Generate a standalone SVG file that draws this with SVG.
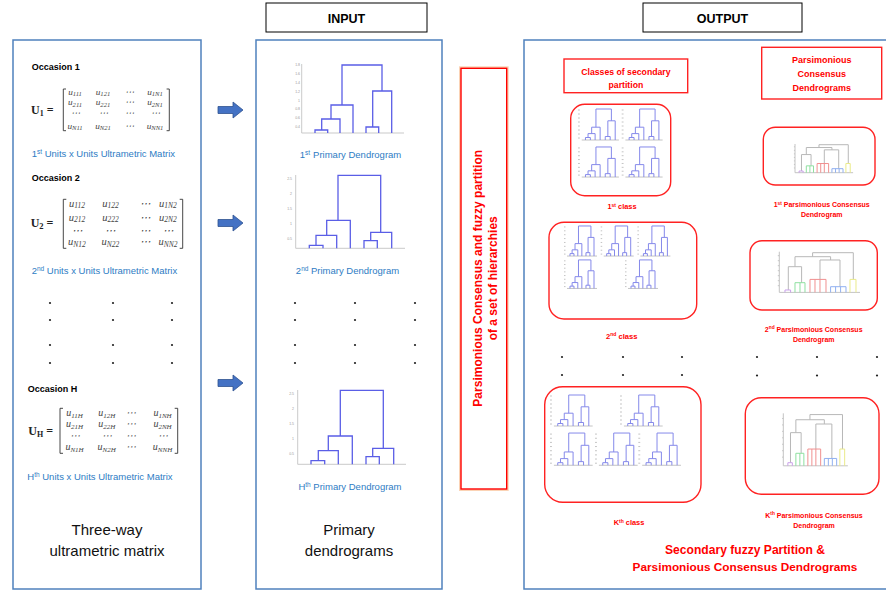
<svg xmlns="http://www.w3.org/2000/svg" xmlns:xlink="http://www.w3.org/1999/xlink" width="886" height="592" viewBox="0 0 886 592">
<style>
.panel{fill:none;stroke:#4f81bd;stroke-width:1.5}
.hdr{fill:#fff;stroke:#000;stroke-width:1}
.hdrt{font:bold 12.5px "Liberation Sans",Arial,sans-serif;text-anchor:middle;fill:#000}
.occ{font:bold 9px "Liberation Sans",Arial,sans-serif;fill:#000}
.lbl{font:9.5px "Liberation Sans",Arial,sans-serif;fill:#2e7cc4}
.lblc{font:9.5px "Liberation Sans",Arial,sans-serif;fill:#2e7cc4;text-anchor:middle}
.big{font:15px "Liberation Sans",Arial,sans-serif;fill:#111;text-anchor:middle}
.m1{font:italic 9.2px "Liberation Serif","DejaVu Serif",serif;fill:#444;text-anchor:middle}
.m{font:italic 10px "Liberation Serif","DejaVu Serif",serif;fill:#444;text-anchor:middle}
.m2{font:italic 10.5px "Liberation Serif","DejaVu Serif",serif;fill:#444;text-anchor:middle}
.s1{font-size:6.6px}
.s{font-size:7px}
.s2{font-size:7.5px}
.U{font:bold 12px "Liberation Serif","DejaVu Serif",serif;fill:#222}
.br{fill:none;stroke:#333;stroke-width:0.9}
.dend{fill:none;stroke:#5a5ee6;stroke-width:1.3}
.axis{fill:none;stroke:#bbb;stroke-width:0.8}
.tk{font:3.5px "Liberation Sans",Arial,sans-serif;fill:#999;text-anchor:end}
.dot{fill:#222}
.rbox{fill:none;stroke:#f22;stroke-width:1.4}
.rt{font-family:"Liberation Sans",Arial,sans-serif;font-weight:bold;fill:#f00;text-anchor:middle}
.mini{fill:none;stroke:#8589ea;stroke-width:1;vector-effect:non-scaling-stroke}
.gl{fill:none;stroke:#c4c4c4;stroke-width:1;vector-effect:non-scaling-stroke}
.arrow{fill:#4472c4;stroke:#2f528f;stroke-width:0.8}
</style>
<defs>
<path id="arr" d="M0,-3.5H15V-8L25,0L15,8V3.5H0Z"/>
<g id="mini">
<path class="gl" d="M0,2h2M0,6h2M0,10h2M0,14h2M0,18h2M0,22h2M0,26h2M0,30h2"/>
<path class="gl" d="M4,32H44"/>
<path class="mini" d="M19.3,19.2V1H35.9V12.8M14.7,25.6V19.2H23.8V32M10.8,29.5V25.6H18.4V32M8,32V29.5H13.3V32M32.1,28.5V12.8H40V32M29.3,32V28.5H34.6V32"/>
</g>
<g id="cons">
<path class="gl" d="M0,0V40.7H80.7M-1.5,4H0M-1.5,9H0M-1.5,14H0M-1.5,19H0M-1.5,24H0M-1.5,29H0M-1.5,34H0"/>
<path class="gl" style="stroke:#b8b8b8" d="M33.3,5V1H74V27.7M15.7,15V5H51.3V8.3M9,38.3V15H22.3V31M40.7,27.7V8.3H60.7V35"/>
<path class="gl" style="stroke:#c9a0ea" d="M5.7,40.7V38.3H11.3V40.7"/>
<path class="gl" style="stroke:#8fe0a0" d="M15.7,40.7V31H25.7V40.7M20.7,31V40.7"/>
<path class="gl" style="stroke:#f09090" d="M30.7,40.7V27.7H46.7V40.7M35.7,27.7V40.7M40.7,27.7V40.7"/>
<path class="gl" style="stroke:#90b0f0" d="M51.3,40.7V35H66.7V40.7M56.3,35V40.7M61.3,35V40.7"/>
<path class="gl" style="stroke:#eaea8a" d="M70.7,40.7V27.7H76.7V40.7"/>
</g>
</defs>

<!-- headers -->
<g id="input-header">
<rect class="hdr" x="266" y="3" width="161" height="29"/>
<text class="hdrt" x="346.5" y="22.5">INPUT</text>
</g>
<g id="output-header">
<rect class="hdr" x="643" y="3" width="159" height="29"/>
<text class="hdrt" x="722.5" y="22.5">OUTPUT</text>
</g>

<!-- left panel -->
<g id="three-way-panel">
<rect class="panel" x="13" y="40" width="188" height="549"/>
<text class="occ" x="31.7" y="70">Occasion 1</text>
<text class="U" x="31" y="114">U<tspan font-size="8" dy="2">1</tspan><tspan dy="-2"> =</tspan></text>
<path class="br" d="M66,89H63.3V130.7H66M166.6,89H169.3V130.7H166.6"/>
<text class="m1" x="75" y="94.5">u<tspan class="s1" dy="1.8">111</tspan></text>
<text class="m1" x="103" y="94.5">u<tspan class="s1" dy="1.8">121</tspan></text>
<text class="m1" x="129" y="94.5">⋯</text>
<text class="m1" x="155" y="94.5">u<tspan class="s1" dy="1.8">1N1</tspan></text>
<text class="m1" x="75" y="105">u<tspan class="s1" dy="1.8">211</tspan></text>
<text class="m1" x="103" y="105">u<tspan class="s1" dy="1.8">221</tspan></text>
<text class="m1" x="129" y="105">⋯</text>
<text class="m1" x="155" y="105">u<tspan class="s1" dy="1.8">2N1</tspan></text>
<text class="m1" x="75" y="115.5">⋯</text>
<text class="m1" x="103" y="115.5">⋯</text>
<text class="m1" x="129" y="115.5">⋯</text>
<text class="m1" x="155" y="115.5">⋯</text>
<text class="m1" x="75" y="128.5">u<tspan class="s1" dy="1.8">N11</tspan></text>
<text class="m1" x="103" y="128.5">u<tspan class="s1" dy="1.8">N21</tspan></text>
<text class="m1" x="129" y="128.5">⋯</text>
<text class="m1" x="155" y="128.5">u<tspan class="s1" dy="1.8">NN1</tspan></text>
<text class="lbl" x="31.7" y="156.5">1<tspan font-size="6.5" dy="-3">st</tspan><tspan dy="3"> Units x Units Ultrametric Matrix</tspan></text>

<text class="occ" x="31.7" y="180.5">Occasion 2</text>
<text class="U" x="30.7" y="227.3" font-size="13">U<tspan font-size="8.5" dy="2">2</tspan><tspan dy="-2"> =</tspan></text>
<path class="br" d="M66.3,199.3H63.3V248.3H66.3M179.7,199.3H182.7V248.3H179.7"/>
<text class="m2" x="77" y="206.5">u<tspan class="s2" dy="1.6">112</tspan></text>
<text class="m2" x="110.5" y="206.5">u<tspan class="s2" dy="1.6">122</tspan></text>
<text class="m2" x="145" y="206.5">⋯</text>
<text class="m2" x="168" y="206.5">u<tspan class="s2" dy="1.6">1N2</tspan></text>
<text class="m2" x="77" y="220.5">u<tspan class="s2" dy="1.6">212</tspan></text>
<text class="m2" x="110.5" y="220.5">u<tspan class="s2" dy="1.6">222</tspan></text>
<text class="m2" x="145" y="220.5">⋯</text>
<text class="m2" x="168" y="220.5">u<tspan class="s2" dy="1.6">2N2</tspan></text>
<text class="m2" x="77" y="233.5">⋯</text>
<text class="m2" x="110.5" y="233.5">⋯</text>
<text class="m2" x="145" y="233.5">⋯</text>
<text class="m2" x="168" y="233.5">⋯</text>
<text class="m2" x="77" y="245.3">u<tspan class="s2" dy="1.6">N12</tspan></text>
<text class="m2" x="110.5" y="245.3">u<tspan class="s2" dy="1.6">N22</tspan></text>
<text class="m2" x="145" y="245.3">⋯</text>
<text class="m2" x="168" y="245.3">u<tspan class="s2" dy="1.6">NN2</tspan></text>
<text class="lbl" x="31.7" y="273.5">2<tspan font-size="6.5" dy="-3">nd</tspan><tspan dy="3"> Units x Units Ultrametric Matrix</tspan></text>

<circle class="dot" cx="50" cy="303" r="1.1"/><circle class="dot" cx="113" cy="303" r="1.1"/><circle class="dot" cx="172" cy="303" r="1.1"/>
<circle class="dot" cx="50" cy="320" r="1.1"/><circle class="dot" cx="113" cy="320" r="1.1"/><circle class="dot" cx="172" cy="320" r="1.1"/>
<circle class="dot" cx="50" cy="345" r="1.1"/><circle class="dot" cx="113" cy="345" r="1.1"/><circle class="dot" cx="172" cy="345" r="1.1"/>
<circle class="dot" cx="50" cy="363" r="1.1"/><circle class="dot" cx="113" cy="363" r="1.1"/><circle class="dot" cx="172" cy="363" r="1.1"/>

<text class="occ" x="27.7" y="391.5">Occasion H</text>
<text class="U" x="28.3" y="435">U<tspan font-size="8" dy="2">H</tspan><tspan dy="-2"> =</tspan></text>
<path class="br" d="M63,408.3H60V453.3H63M174.7,408.3H177.7V453.3H174.7"/>
<text class="m" x="74.5" y="416">u<tspan class="s" dy="1.8">11H</tspan></text>
<text class="m" x="106.7" y="416">u<tspan class="s" dy="1.8">12H</tspan></text>
<text class="m" x="131" y="416">⋯</text>
<text class="m" x="162.5" y="416">u<tspan class="s" dy="1.8">1NH</tspan></text>
<text class="m" x="74.5" y="427.3">u<tspan class="s" dy="1.8">21H</tspan></text>
<text class="m" x="106.7" y="427.3">u<tspan class="s" dy="1.8">22H</tspan></text>
<text class="m" x="131" y="427.3">⋯</text>
<text class="m" x="162.5" y="427.3">u<tspan class="s" dy="1.8">2NH</tspan></text>
<text class="m" x="74.5" y="438.7">⋯</text>
<text class="m" x="106.7" y="438.7">⋯</text>
<text class="m" x="131" y="438.7">⋯</text>
<text class="m" x="162.5" y="438.7">⋯</text>
<text class="m" x="74.5" y="450.3">u<tspan class="s" dy="1.8">N1H</tspan></text>
<text class="m" x="106.7" y="450.3">u<tspan class="s" dy="1.8">N2H</tspan></text>
<text class="m" x="131" y="450.3">⋯</text>
<text class="m" x="162.5" y="450.3">u<tspan class="s" dy="1.8">NNH</tspan></text>
<text class="lbl" x="27.3" y="479.5">H<tspan font-size="6.5" dy="-3">th</tspan><tspan dy="3"> Units x Units Ultrametric Matrix</tspan></text>

<text class="big" x="107" y="535">Three-way</text>
<text class="big" x="107" y="556">ultrametric matrix</text>
</g>

<!-- arrows -->
<g id="connectors">
<use href="#arr" class="arrow" x="218" y="110"/>
<use href="#arr" class="arrow" x="218" y="223"/>
<use href="#arr" class="arrow" x="218" y="383"/>
</g>

<!-- middle panel -->
<g id="primary-dendrograms-panel">
<rect class="panel" x="256" y="40" width="186" height="549"/>
<path class="axis" d="M301.7,64V133H404"/>
<text class="tk" x="300" y="66">1.8</text><text class="tk" x="300" y="75">1.6</text><text class="tk" x="300" y="84">1.4</text><text class="tk" x="300" y="92.5">1.2</text><text class="tk" x="300" y="101.5">1</text><text class="tk" x="300" y="110">0.8</text><text class="tk" x="300" y="118.7">0.6</text><text class="tk" x="300" y="127.5">0.4</text>
<path class="dend" d="M342,105V65H382V91M331,119V105H353V133M321.7,130V119H340V133M315,133V130H327.7V133M372.7,127V91H391.7V133M366,133V127H378.7V133"/>
<text class="lblc" x="350.5" y="157.5">1<tspan font-size="6.5" dy="-3">st</tspan><tspan dy="3" dx="3">Primary Dendrogram</tspan></text>
<path class="axis" d="M295.7,175V248.3H405"/>
<text class="tk" x="292" y="179.5">2.5</text><text class="tk" x="292" y="194.5">2</text><text class="tk" x="292" y="209.5">1.5</text><text class="tk" x="292" y="224.5">1</text><text class="tk" x="292" y="239.5">0.5</text>
<path class="dend" d="M338,220.3V175.3H380.7V232.3M326.7,235.3V220.3H350.3V248.3M316,245.3V235.3H336.7V248.3M309.3,248.3V245.3H323V248.3M370.7,240.7V232.3H391.7V248.3M364,248.3V240.7H377.3V248.3"/>
<text class="lblc" x="347.5" y="273.5">2<tspan font-size="6.5" dy="-3">nd</tspan><tspan dy="3"> Primary Dendrogram</tspan></text>

<circle class="dot" cx="295" cy="303" r="1.1"/><circle class="dot" cx="355" cy="303" r="1.1"/><circle class="dot" cx="415" cy="303" r="1.1"/>
<circle class="dot" cx="295" cy="320" r="1.1"/><circle class="dot" cx="355" cy="320" r="1.1"/><circle class="dot" cx="415" cy="320" r="1.1"/>
<circle class="dot" cx="295" cy="345" r="1.1"/><circle class="dot" cx="355" cy="345" r="1.1"/><circle class="dot" cx="415" cy="345" r="1.1"/>
<circle class="dot" cx="295" cy="363" r="1.1"/><circle class="dot" cx="355" cy="363" r="1.1"/><circle class="dot" cx="415" cy="363" r="1.1"/>

<path class="axis" d="M297.7,390V464.3H406"/>
<text class="tk" x="294" y="394.5">2.5</text><text class="tk" x="294" y="410">2</text><text class="tk" x="294" y="425">1.5</text><text class="tk" x="294" y="440">1</text><text class="tk" x="294" y="455">0.5</text>
<path class="dend" d="M340.3,436V390.3H383.3V448.3M328.3,450.7V436H352.3V464.3M318.3,460.7V450.7H338.3V464.3M311,464.3V460.7H324.7V464.3M372.7,456.7V448.3H393.7V464.3M366,464.3V456.7H379.3V464.3"/>
<text class="lblc" x="350" y="489.5">H<tspan font-size="6.5" dy="-3">th</tspan><tspan dy="3"> Primary Dendrogram</tspan></text>

<text class="big" x="349" y="535">Primary</text>
<text class="big" x="349" y="556">dendrograms</text>
</g>

<!-- central method box -->
<g id="method-box">
<rect x="461" y="68.3" width="45.7" height="420.7" fill="none" stroke="#fbd3b5" stroke-width="4"/>
<rect x="461" y="68.3" width="45.7" height="420.7" fill="#fff" stroke="#f00" stroke-width="1.4"/>
<text class="rt" font-size="12" transform="translate(482,278.3) rotate(-90)">Parsimonious Consensus and fuzzy partition</text>
<text class="rt" font-size="12" transform="translate(497,278.3) rotate(-90)">of a set of hierarchies</text>
</g>

<!-- output panel -->
<g id="output-panel">
<rect class="panel" x="524" y="40" width="370" height="549"/>
</g>

<g id="classes-header">
<rect class="rbox" x="564" y="59" width="123.7" height="33.7"/>
<text class="rt" font-size="8.7" x="625.9" y="75">Classes of secondary</text>
<text class="rt" font-size="8.7" x="625.9" y="87.5">partition</text>
</g>
<g id="pcd-header">
<rect class="rbox" x="761.7" y="47.3" width="120" height="51.7"/>
<text class="rt" font-size="9" x="821.7" y="62.5">Parsimonious</text>
<text class="rt" font-size="9" x="821.7" y="76.5">Consensus</text>
<text class="rt" font-size="9" x="821.7" y="90.5">Dendrograms</text>
</g>

<g id="class-1">
<rect class="rbox" x="570.7" y="104.3" width="100" height="91.4" rx="14"/>
<use href="#mini" transform="translate(578,108) scale(0.93,1)"/>
<use href="#mini" transform="translate(621.7,108) scale(0.93,1)"/>
<use href="#mini" transform="translate(578,146) scale(0.93,0.97)"/>
<use href="#mini" transform="translate(621.7,146) scale(0.93,0.97)"/>
<text class="rt" font-size="7.4" x="622" y="209.3">1<tspan font-size="5" dy="-2.5">st</tspan><tspan dy="2.5"> class</tspan></text>
</g>

<g id="pcd-1">
<rect class="rbox" x="763.3" y="127.3" width="111.7" height="57.7" rx="12"/>
<use href="#cons" transform="translate(795,144) scale(0.72,0.705)"/>
<text class="rt" font-size="7" x="821.7" y="207.2">1<tspan font-size="4.8" dy="-2.5">st</tspan><tspan dy="2.5"> Parsimonious Consensus</tspan></text>
<text class="rt" font-size="7" x="821.7" y="217">Dendrogram</text>
</g>

<g id="class-2">
<rect class="rbox" x="549" y="222.3" width="147.7" height="96.7" rx="15"/>
<use href="#mini" transform="translate(564,225) scale(0.75,0.97)"/>
<use href="#mini" transform="translate(600.7,225) scale(0.75,0.97)"/>
<use href="#mini" transform="translate(637.4,225) scale(0.75,0.97)"/>
<use href="#mini" transform="translate(564,259) scale(0.75,0.92)"/>
<use href="#mini" transform="translate(625,259) scale(0.75,0.92)"/>
<text class="rt" font-size="7.6" x="621.7" y="338.8">2<tspan font-size="5" dy="-2.5">nd</tspan><tspan dy="2.5"> class</tspan></text>
</g>

<g id="pcd-2">
<rect class="rbox" x="750" y="240.7" width="127.3" height="69.3" rx="12"/>
<use href="#cons" transform="translate(779.3,251.7)"/>
<text class="rt" font-size="7" x="813.7" y="331.8">2<tspan font-size="4.8" dy="-2.5">nd</tspan><tspan dy="2.5"> Parsimonious Consensus</tspan></text>
<text class="rt" font-size="7" x="813.7" y="342">Dendrogram</text>
</g>

<g id="output-dots">
<circle class="dot" cx="562" cy="357" r="1.1"/><circle class="dot" cx="623" cy="357" r="1.1"/><circle class="dot" cx="682" cy="357" r="1.1"/>
<circle class="dot" cx="757" cy="357" r="1.1"/><circle class="dot" cx="817" cy="357" r="1.1"/><circle class="dot" cx="877" cy="357" r="1.1"/>
<circle class="dot" cx="562" cy="375" r="1.1"/><circle class="dot" cx="623" cy="375" r="1.1"/><circle class="dot" cx="682" cy="375" r="1.1"/>
<circle class="dot" cx="757" cy="375.5" r="1.1"/><circle class="dot" cx="817" cy="375.5" r="1.1"/><circle class="dot" cx="877" cy="375.5" r="1.1"/>
</g>

<g id="class-k">
<rect class="rbox" x="544.7" y="386.7" width="156.3" height="115.6" rx="18"/>
<use href="#mini" transform="translate(550,394) scale(0.97,1)"/>
<use href="#mini" transform="translate(620,394) scale(0.97,1)"/>
<use href="#mini" transform="translate(550,432) scale(0.97,1.04)"/>
<use href="#mini" transform="translate(595,432) scale(0.97,1.04)"/>
<use href="#mini" transform="translate(638.3,432) scale(0.97,1.04)"/>
<text class="rt" font-size="7.4" x="629" y="525.3">K<tspan font-size="5" dy="-2.5">th</tspan><tspan dy="2.5"> class</tspan></text>
</g>

<g id="pcd-k">
<rect class="rbox" x="745.3" y="397.7" width="133.7" height="96.6" rx="16"/>
<use href="#cons" transform="translate(783.3,413.3) scale(0.8,1.29)"/>
<text class="rt" font-size="7" x="814" y="517.5">K<tspan font-size="4.8" dy="-2.5">th</tspan><tspan dy="2.5"> Parsimonious Consensus</tspan></text>
<text class="rt" font-size="7" x="814" y="528.3">Dendrogram</text>
</g>

<g id="output-title">
<text class="rt" font-size="12.1" x="745" y="553.5">Secondary fuzzy Partition &amp;</text>
<text class="rt" font-size="11.8" x="745" y="571">Parsimonious Consensus Dendrograms</text>
</g>
</svg>
